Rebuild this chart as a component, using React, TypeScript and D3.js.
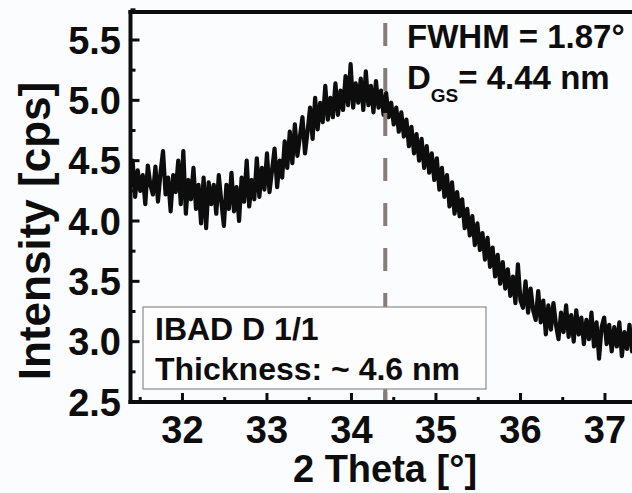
import React from "react";
import * as d3 from "d3";

const W = 632;
const H = 493;

// scan: 2 theta start / step (degrees)
const thetaStart = 31.38;
const thetaStep = 0.03;

const intensity: number[] = [
  4.28, 4.50, 4.20, 4.42, 4.25, 4.38, 4.14, 4.46, 4.30, 4.22,
  4.45, 4.16, 4.40, 4.58, 4.22, 4.36, 4.08, 4.38, 4.24, 4.50,
  4.14, 4.58, 4.06, 4.34, 4.18, 4.44, 4.10, 4.30, 3.98, 4.36,
  3.94, 4.32, 4.14, 4.30, 4.06, 4.38, 4.16, 3.96, 4.30, 4.10,
  4.40, 4.08, 4.28, 4.00, 4.36, 4.16, 4.50, 4.12, 4.34, 4.18,
  4.52, 4.20, 4.44, 4.26, 4.56, 4.24, 4.42, 4.60, 4.28, 4.50,
  4.36, 4.66, 4.44, 4.74, 4.48, 4.80, 4.54, 4.70, 4.86, 4.56,
  4.74, 4.94, 4.68, 5.02, 4.76, 4.98, 4.82, 5.12, 4.84, 5.02,
  4.86, 5.14, 4.88, 5.08, 4.92, 5.20, 4.96, 5.30, 4.94, 5.14,
  4.98, 5.18, 4.92, 5.24, 4.96, 5.12, 4.90, 5.16, 4.94, 5.08,
  4.88, 5.06, 4.86, 4.98, 4.80, 4.94, 4.74, 4.90, 4.70, 4.84,
  4.62, 4.78, 4.56, 4.72, 4.50, 4.68, 4.44, 4.62, 4.40, 4.56,
  4.34, 4.52, 4.26, 4.44, 4.20, 4.38, 4.12, 4.32, 4.06, 4.24,
  4.04, 4.18, 3.94, 4.10, 3.88, 4.04, 3.80, 3.98, 3.76, 3.90,
  3.68, 3.86, 3.62, 3.78, 3.54, 3.72, 3.48, 3.66, 3.44, 3.60,
  3.38, 3.54, 3.32, 3.64, 3.34, 3.28, 3.50, 3.24, 3.44, 3.26,
  3.18, 3.42, 3.16, 3.34, 3.06, 3.30, 3.10, 3.32, 3.14, 3.02,
  3.24, 3.08, 3.30, 3.04, 3.22, 3.00, 3.26, 3.06, 3.20, 2.98,
  3.18, 3.02, 3.24, 2.96, 3.16, 2.86, 3.12, 3.20, 2.98, 3.14,
  2.92, 3.12, 2.96, 3.16, 2.88, 3.08, 2.94, 3.14, 2.92, 3.06, 2.96,
];

const xMajorTicks = [32, 33, 34, 35, 36, 37];
const xMinorTicks = [31.5, 32.5, 33.5, 34.5, 35.5, 36.5, 37.5];
const yMajorTicks = [2.5, 3.0, 3.5, 4.0, 4.5, 5.0, 5.5];
const yMinorTicks = [2.75, 3.25, 3.75, 4.25, 4.75, 5.25, 5.75];

const peakPosition = 34.4;
const fwhmText = "FWHM = 1.87°";
const dgsValue = "= 4.44 nm";
const sampleName = "IBAD D 1/1";
const thicknessText = "Thickness: ~ 4.6 nm";

const FONT = "'Liberation Sans', Arial, sans-serif";

export default function App() {
  const left = 130.5;
  const top = 12;
  const bottom = 402;
  const right = 643;

  const x = d3.scaleLinear().domain([31.385, 37.45]).range([left, right]);
  const y = d3.scaleLinear().domain([2.5, 5.732]).range([bottom, top]);

  const pts: [number, number][] = intensity.map((v, i) => [thetaStart + i * thetaStep, v]);
  const line = d3
    .line<[number, number]>()
    .x((d) => x(d[0]))
    .y((d) => y(d[1]));

  const ink = "#0d0d0d";

  return (
    <svg
      width={W}
      height={H}
      style={{ position: "absolute", left: 0, top: 0, background: "#fbfcfe" }}
      fontFamily={FONT}
      fontWeight="bold"
    >
      <rect x={0} y={0} width={W} height={H} fill="#fbfcfe" />
      <defs>
        <clipPath id="plotclip">
          <rect x={left} y={top} width={right - left} height={bottom - top} />
        </clipPath>
      </defs>

      {/* data */}
      <path
        d={line(pts) || ""}
        fill="none"
        stroke={ink}
        strokeWidth={4.2}
        strokeLinejoin="round"
        clipPath="url(#plotclip)"
      />

      {/* dashed marker */}
      <line
        x1={x(peakPosition)}
        x2={x(peakPosition)}
        y1={23}
        y2={bottom}
        stroke="#877d78"
        strokeWidth={4}
        strokeDasharray="23 22"
      />

      {/* legend box */}
      <rect x={143} y={307} width={343} height={82} fill="#fdfdfe" stroke="#8c8c8c" strokeWidth={1.2} />
      <text x={155} y={340} fontSize={32} fill={ink}>{sampleName}</text>
      <text x={155} y={380} fontSize={32} fill={ink}>{thicknessText}</text>

      {/* dashed line segment below box */}
      <line
        x1={x(peakPosition)}
        x2={x(peakPosition)}
        y1={392}
        y2={bottom}
        stroke="#877d78"
        strokeWidth={4}
      />

      {/* frame */}
      <line x1={left} x2={left} y1={top - 2} y2={bottom + 2} stroke={ink} strokeWidth={4} />
      <line x1={left - 2} x2={W + 10} y1={bottom} y2={bottom} stroke={ink} strokeWidth={4} />
      <line x1={left - 2} x2={W + 10} y1={top} y2={top} stroke={ink} strokeWidth={4} />

      {/* y ticks */}
      {yMajorTicks.map((t) => (
        <g key={"ym" + t}>
          <line x1={left} x2={left + 9} y1={y(t)} y2={y(t)} stroke={ink} strokeWidth={3} />
          <text x={121} y={y(t)} dy="0.36em" textAnchor="end" fontSize={38} fill={ink}>
            {t.toFixed(1)}
          </text>
        </g>
      ))}
      {yMinorTicks.map((t) => (
        <line key={"yn" + t} x1={left} x2={left + 5} y1={y(t)} y2={y(t)} stroke={ink} strokeWidth={3} />
      ))}

      {/* x ticks */}
      {xMajorTicks.map((t) => (
        <g key={"xm" + t}>
          <line x1={x(t)} x2={x(t)} y1={bottom} y2={bottom - 9} stroke={ink} strokeWidth={3} />
          <text x={x(t)} y={443} textAnchor="middle" fontSize={38} fill={ink}>
            {t}
          </text>
        </g>
      ))}
      {xMinorTicks.map((t) => (
        <line key={"xn" + t} x1={x(t)} x2={x(t)} y1={bottom} y2={bottom - 5} stroke={ink} strokeWidth={3} />
      ))}

      {/* axis titles */}
      <text x={385} y={482} textAnchor="middle" fontSize={38} fill={ink}>
        2 Theta [°]
      </text>
      <text
        transform={`translate(50,231) rotate(-90)`}
        textAnchor="middle"
        fontSize={44}
        fill={ink}
      >
        Intensity [cps]
      </text>

      {/* annotations */}
      <text x={407} y={48} fontSize={33} fill={ink}>{fwhmText}</text>
      <text x={407} y={89} fontSize={33} fill={ink}>
        D
        <tspan fontSize={19} dy={13}>GS</tspan>
        <tspan fontSize={33} dy={-13}>{dgsValue}</tspan>
      </text>
    </svg>
  );
}
